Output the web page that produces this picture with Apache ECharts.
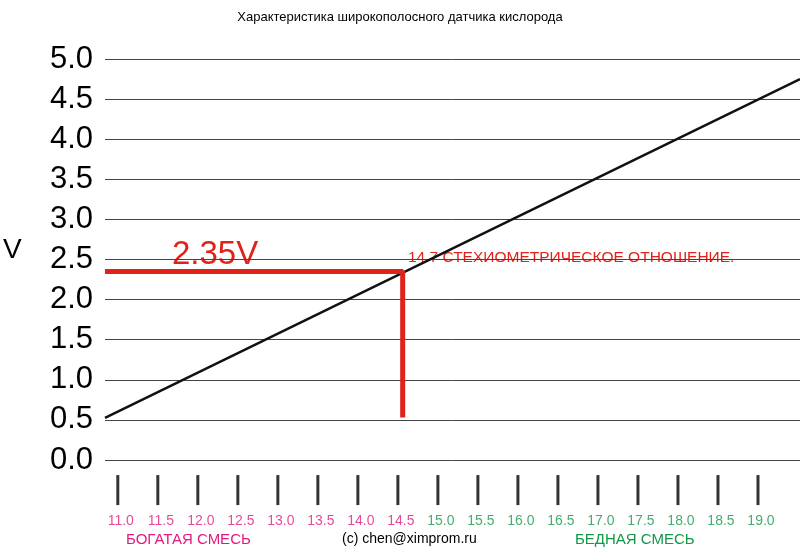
<!DOCTYPE html>
<html><head><meta charset="utf-8">
<script src="https://cdn.jsdelivr.net/npm/echarts@6/dist/echarts.min.js"></script>
<style>html,body{margin:0;padding:0;background:#fff}#c{width:800px;height:549px}</style>
</head><body><div id="c"></div>
<script>
// данные
var lambdaLine = [[10.84, 0.525], [19.525, 4.75]];
var stoichX = 14.56, stoichV = 2.35, stoichBottom = 0.53;
var afrTicks = [11.0, 11.5, 12.0, 12.5, 13.0, 13.5, 14.0, 14.5, 15.0, 15.5, 16.0, 16.5, 17.0, 17.5, 18.0, 18.5, 19.0];
var richColor = '#e4197f', leanColor = '#13984a';

var chart = echarts.init(document.getElementById('c'));
chart.setOption({
    animation: false,
    title: {
        text: 'Характеристика широкополосного датчика кислорода',
        left: 'center', top: 6,
        textStyle: {fontFamily: 'Liberation Sans', fontSize: 13, fontWeight: 'normal', color: '#000'}
    },
    grid: {left: 105, right: 0, top: 59, bottom: 89, containLabel: false},
    xAxis: {
        type: 'value', min: 10.84, max: 19.525,
        axisLine: {show: false}, axisTick: {show: false}, axisLabel: {show: false}, splitLine: {show: false}
    },
    yAxis: {
        type: 'value', min: 0, max: 5, interval: 0.5,
        axisLine: {show: false}, axisTick: {show: false},
        axisLabel: {
            formatter: function (v) { return v.toFixed(1); },
            fontFamily: 'Liberation Sans', fontSize: 31, color: '#000', margin: 12
        },
        splitLine: {lineStyle: {color: '#444', width: 1}}
    },
    series: [
        {
            type: 'line', data: lambdaLine, symbol: 'none',
            lineStyle: {color: '#111', width: 2.5}
        },
        {
            type: 'line', data: [[10.84, stoichV], [stoichX, stoichV], [stoichX, stoichBottom]],
            symbol: 'none', lineStyle: {color: '#e0221b', width: 5}
        },
        {
            type: 'scatter', clip: false, symbol: 'rect', symbolSize: [3, 30],
            itemStyle: {color: '#000'},
            data: afrTicks.map(function (v) {
                return {
                    value: [v, -0.375],
                    label: {
                        show: true, position: 'bottom', distance: 9, offset: [3, 0],
                        formatter: v.toFixed(1),
                        fontFamily: 'Liberation Sans', fontSize: 14,
                        color: v < 14.75 ? richColor : leanColor
                    }
                };
            })
        }
    ],
    graphic: [
        {type: 'text', left: 3, top: 236, style: {text: 'V', font: '28px Liberation Sans', fill: '#000'}},
        {type: 'text', left: 172, top: 238, style: {text: '2.35V', font: '33px Liberation Sans', fill: '#e0221b'}},
        {type: 'text', left: 408, top: 250, style: {text: '14.7 СТЕХИОМЕТРИЧЕСКОЕ ОТНОШЕНИЕ.', font: '15.5px Liberation Sans', fill: '#e0221b'}},
        {type: 'text', left: 126, top: 532, style: {text: 'БОГАТАЯ СМЕСЬ', font: '15px Liberation Sans', fill: richColor}},
        {type: 'text', left: 342, top: 532, style: {text: '(c) chen@ximprom.ru', font: '14px Liberation Sans', fill: '#000'}},
        {type: 'text', left: 575, top: 532, style: {text: 'БЕДНАЯ СМЕСЬ', font: '15px Liberation Sans', fill: leanColor}}
    ]
});
</script>
</body></html>
